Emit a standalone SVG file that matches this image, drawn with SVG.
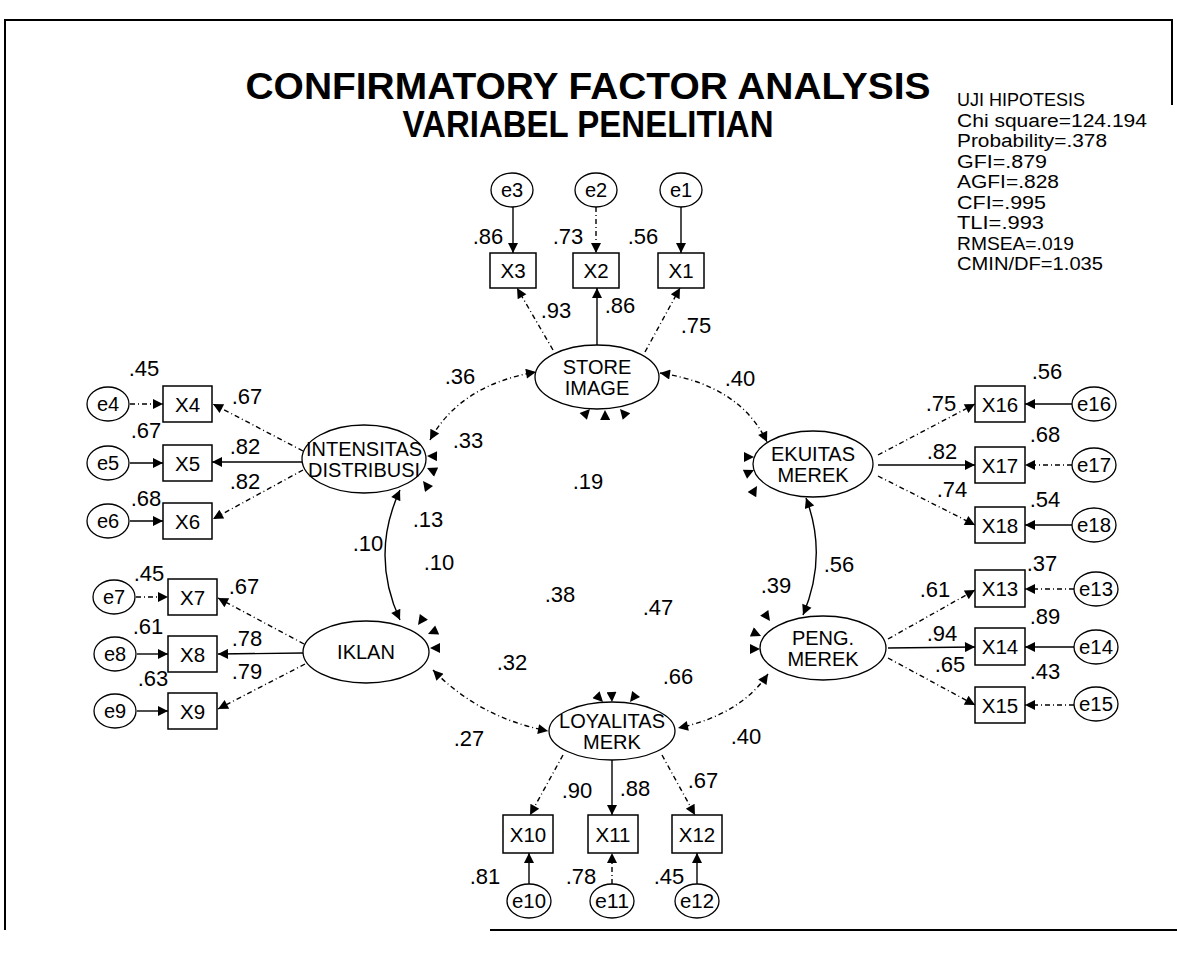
<svg xmlns="http://www.w3.org/2000/svg" width="1177" height="959" viewBox="0 0 1177 959">
<defs>
<marker id="ah" viewBox="0 0 10 10" refX="10" refY="5" markerWidth="13" markerHeight="10" orient="auto-start-reverse" markerUnits="userSpaceOnUse"><path d="M0,0 L10,5 L0,10 z" fill="#000"/></marker>
<style>
text{font-family:"Liberation Sans",Arial,sans-serif;fill:#000}
.t{font-weight:bold;font-size:37px;text-anchor:middle}
.s{font-size:18px}
.n{font-size:22px;text-anchor:middle}
.lb{font-size:20.5px;text-anchor:middle}
.el{font-size:20px;text-anchor:middle}
.box{fill:#fff;stroke:#000;stroke-width:1.5}
.err{fill:#fff;stroke:#000;stroke-width:1.3}
.lat{fill:#fff;stroke:#000;stroke-width:1.3}
.c path{fill:none;stroke:#000;stroke-width:1.4}
.c .d{stroke-dasharray:5,3,1,3}
.c .a{marker-end:url(#ah)}
.c .b{marker-start:url(#ah);marker-end:url(#ah)}
.c .stub{stroke:none}
.frame{fill:none;stroke:#000;stroke-width:2}
</style>
</defs>
<rect width="1177" height="959" fill="#fff"/>
<g id="frame" class="frame"><path d="M1172,105 L1172,20 L5,20 L5,930"/><path d="M490,930 L1177,930"/></g>
<g id="title">
<text class="t" x="588" y="99" textLength="685" lengthAdjust="spacingAndGlyphs">CONFIRMATORY FACTOR ANALYSIS</text>
<text class="t" x="588" y="137" textLength="371" lengthAdjust="spacingAndGlyphs">VARIABEL PENELITIAN</text>
</g>
<g id="stats" class="s">
<text x="957" y="106" textLength="128" lengthAdjust="spacingAndGlyphs">UJI HIPOTESIS</text>
<text x="957" y="126.5" textLength="190" lengthAdjust="spacingAndGlyphs">Chi square=124.194</text>
<text x="957" y="147" textLength="150" lengthAdjust="spacingAndGlyphs">Probability=.378</text>
<text x="957" y="167.5" textLength="90" lengthAdjust="spacingAndGlyphs">GFI=.879</text>
<text x="957" y="188" textLength="102" lengthAdjust="spacingAndGlyphs">AGFI=.828</text>
<text x="957" y="208.5" textLength="89" lengthAdjust="spacingAndGlyphs">CFI=.995</text>
<text x="957" y="229" textLength="87" lengthAdjust="spacingAndGlyphs">TLI=.993</text>
<text x="957" y="249.5" textLength="117" lengthAdjust="spacingAndGlyphs">RMSEA=.019</text>
<text x="957" y="270" textLength="146" lengthAdjust="spacingAndGlyphs">CMIN/DF=1.035</text>
</g>
<g id="connectors" class="c">
<path class="a" d="M513,207 L513,253"/>
<path class="a d" d="M596,207 L596,253"/>
<path class="a" d="M681,207 L681,253"/>
<path class="a d" d="M553,350 L517,288"/>
<path class="a" d="M597,345 L597,288"/>
<path class="a d" d="M645,352 L680,288"/>
<path class="a d" d="M130,404 L163,404"/>
<path class="a" d="M130,463 L163,463"/>
<path class="a" d="M130,521 L163,521"/>
<path class="a d" d="M136,597 L168,597"/>
<path class="a" d="M137,654 L168,654"/>
<path class="a" d="M137,711 L168,711"/>
<path class="a d" d="M303,451 L213,404"/>
<path class="a" d="M302,462 L212,462"/>
<path class="a d" d="M303,470 L213,519"/>
<path class="a d" d="M304,644 L218,598"/>
<path class="a" d="M303,653 L218,654"/>
<path class="a d" d="M305,664 L218,709"/>
<path class="a" d="M1072,404 L1025,404"/>
<path class="a d" d="M1072,465 L1025,465"/>
<path class="a" d="M1072,525 L1025,525"/>
<path class="a d" d="M1074,589 L1025,589"/>
<path class="a" d="M1074,647 L1025,647"/>
<path class="a d" d="M1074,705 L1025,705"/>
<path class="a d" d="M878,455 L975,404"/>
<path class="a" d="M878,465 L975,465"/>
<path class="a d" d="M878,476 L975,525"/>
<path class="a d" d="M888,639 L975,590"/>
<path class="a" d="M888,648 L975,647"/>
<path class="a d" d="M888,658 L975,705"/>
<path class="a d" d="M563,755 L530,815"/>
<path class="a" d="M612,760 L612,815"/>
<path class="a d" d="M662,755 L695,815"/>
<path class="a" d="M529,884 L529,853"/>
<path class="a d" d="M612,884 L612,853"/>
<path class="a" d="M697,884 L697,853"/>
<path class="b d" d="M430,440 Q460,385 536,372"/>
<path class="b d" d="M660,373 Q740,385 767,442"/>
<path class="b" d="M400,490 Q370,555 400,620"/>
<path class="b" d="M806,498 Q828,556 803,615"/>
<path class="b d" d="M433,670 Q480,718 548,731"/>
<path class="b d" d="M768,674 Q740,715 678,728"/>
<path class="a stub" d="M581.9,417.8 L590,409"/>
<path class="a stub" d="M605.2,422 L605,410"/>
<path class="a stub" d="M627.8,418.1 L620,409"/>
<path class="a stub" d="M439,456.2 L427,456"/>
<path class="a stub" d="M437.9,473 L427,468"/>
<path class="a stub" d="M430.2,490.6 L423,481"/>
<path class="a stub" d="M425,615.3 L418,625"/>
<path class="a stub" d="M439,629.2 L428,634"/>
<path class="a stub" d="M442,648 L430,648"/>
<path class="a stub" d="M742,457 L754,457"/>
<path class="a stub" d="M743.1,475.1 L754,470"/>
<path class="a stub" d="M750.9,496.3 L757,486"/>
<path class="a stub" d="M763.1,611.2 L770,621"/>
<path class="a stub" d="M750,631.1 L761,636"/>
<path class="a stub" d="M748,649 L760,649"/>
<path class="a stub" d="M594.6,693.4 L603,702"/>
<path class="a stub" d="M611.4,690 L612,702"/>
<path class="a stub" d="M637.3,692.5 L630,702"/>
</g>
<g id="store"><ellipse class="lat" cx="597" cy="377" rx="62" ry="32"/><text class="el" x="597" y="374">STORE</text><text class="el" x="597" y="395">IMAGE</text></g>
<g id="intensitas"><ellipse class="lat" cx="364" cy="459" rx="62" ry="34"/><text class="el" x="364" y="456" textLength="116" lengthAdjust="spacingAndGlyphs">INTENSITAS</text><text class="el" x="364" y="477" textLength="112" lengthAdjust="spacingAndGlyphs">DISTRIBUSI</text></g>
<g id="iklan"><ellipse class="lat" cx="366" cy="652" rx="63" ry="31"/><text class="el" x="366" y="659">IKLAN</text></g>
<g id="ekuitas"><ellipse class="lat" cx="813" cy="464" rx="60" ry="33"/><text class="el" x="813" y="461">EKUITAS</text><text class="el" x="813" y="482">MEREK</text></g>
<g id="peng"><ellipse class="lat" cx="823" cy="648" rx="63" ry="32"/><text class="el" x="823" y="645">PENG.</text><text class="el" x="823" y="666">MEREK</text></g>
<g id="loyalitas"><ellipse class="lat" cx="612" cy="731" rx="63" ry="29"/><text class="el" x="612" y="728">LOYALITAS</text><text class="el" x="612" y="749">MERK</text></g>
<g id="X3"><rect class="box" x="490" y="253" width="46" height="35"/><text class="lb" x="513" y="278">X3</text></g>
<g id="X2"><rect class="box" x="573" y="253" width="46" height="35"/><text class="lb" x="596" y="278">X2</text></g>
<g id="X1"><rect class="box" x="658" y="253" width="46" height="35"/><text class="lb" x="681" y="278">X1</text></g>
<g id="X4"><rect class="box" x="163" y="386" width="49" height="36"/><text class="lb" x="187.5" y="411.5">X4</text></g>
<g id="X5"><rect class="box" x="163" y="445" width="49" height="36"/><text class="lb" x="187.5" y="470.5">X5</text></g>
<g id="X6"><rect class="box" x="163" y="503" width="49" height="36"/><text class="lb" x="187.5" y="528.5">X6</text></g>
<g id="X7"><rect class="box" x="168" y="579" width="49" height="36"/><text class="lb" x="192.5" y="604.5">X7</text></g>
<g id="X8"><rect class="box" x="168" y="636" width="49" height="36"/><text class="lb" x="192.5" y="661.5">X8</text></g>
<g id="X9"><rect class="box" x="168" y="693" width="49" height="36"/><text class="lb" x="192.5" y="718.5">X9</text></g>
<g id="X16"><rect class="box" x="975" y="386" width="50" height="36"/><text class="lb" x="1000" y="411.5">X16</text></g>
<g id="X17"><rect class="box" x="975" y="447" width="50" height="36"/><text class="lb" x="1000" y="472.5">X17</text></g>
<g id="X18"><rect class="box" x="975" y="507" width="50" height="36"/><text class="lb" x="1000" y="532.5">X18</text></g>
<g id="X13"><rect class="box" x="975" y="570" width="50" height="37"/><text class="lb" x="1000" y="596">X13</text></g>
<g id="X14"><rect class="box" x="975" y="628" width="50" height="37"/><text class="lb" x="1000" y="654">X14</text></g>
<g id="X15"><rect class="box" x="975" y="687" width="50" height="36"/><text class="lb" x="1000" y="712.5">X15</text></g>
<g id="X10"><rect class="box" x="503" y="815" width="50" height="38"/><text class="lb" x="528" y="841.5">X10</text></g>
<g id="X11"><rect class="box" x="588" y="815" width="50" height="38"/><text class="lb" x="613" y="841.5">X11</text></g>
<g id="X12"><rect class="box" x="672" y="815" width="50" height="38"/><text class="lb" x="697" y="841.5">X12</text></g>
<g id="e3"><ellipse class="err" cx="512" cy="190" rx="21" ry="17"/><text class="el" x="512" y="197">e3</text></g>
<g id="e2"><ellipse class="err" cx="596" cy="190" rx="21" ry="17"/><text class="el" x="596" y="197">e2</text></g>
<g id="e1"><ellipse class="err" cx="681" cy="190" rx="21" ry="17"/><text class="el" x="681" y="197">e1</text></g>
<g id="e4"><ellipse class="err" cx="108" cy="404" rx="21" ry="17"/><text class="el" x="108" y="411">e4</text></g>
<g id="e5"><ellipse class="err" cx="108" cy="463" rx="21" ry="17"/><text class="el" x="108" y="470">e5</text></g>
<g id="e6"><ellipse class="err" cx="108" cy="521" rx="21" ry="17"/><text class="el" x="108" y="528">e6</text></g>
<g id="e7"><ellipse class="err" cx="114" cy="597" rx="21" ry="17"/><text class="el" x="114" y="604">e7</text></g>
<g id="e8"><ellipse class="err" cx="115" cy="654" rx="21" ry="17"/><text class="el" x="115" y="661">e8</text></g>
<g id="e9"><ellipse class="err" cx="115" cy="711" rx="21" ry="17"/><text class="el" x="115" y="718">e9</text></g>
<g id="e16"><ellipse class="err" cx="1094" cy="404" rx="22" ry="17"/><text class="el" x="1094" y="411" textLength="34" lengthAdjust="spacingAndGlyphs">e16</text></g>
<g id="e17"><ellipse class="err" cx="1094" cy="465" rx="22" ry="17"/><text class="el" x="1094" y="472" textLength="34" lengthAdjust="spacingAndGlyphs">e17</text></g>
<g id="e18"><ellipse class="err" cx="1094" cy="525" rx="22" ry="17"/><text class="el" x="1094" y="532" textLength="34" lengthAdjust="spacingAndGlyphs">e18</text></g>
<g id="e13"><ellipse class="err" cx="1096" cy="589" rx="22" ry="17"/><text class="el" x="1096" y="596" textLength="34" lengthAdjust="spacingAndGlyphs">e13</text></g>
<g id="e14"><ellipse class="err" cx="1096" cy="647" rx="22" ry="17"/><text class="el" x="1096" y="654" textLength="34" lengthAdjust="spacingAndGlyphs">e14</text></g>
<g id="e15"><ellipse class="err" cx="1096" cy="704" rx="22" ry="17"/><text class="el" x="1096" y="711" textLength="34" lengthAdjust="spacingAndGlyphs">e15</text></g>
<g id="e10"><ellipse class="err" cx="529" cy="901" rx="22" ry="17"/><text class="el" x="529" y="908" textLength="34" lengthAdjust="spacingAndGlyphs">e10</text></g>
<g id="e11"><ellipse class="err" cx="612" cy="901" rx="22" ry="17"/><text class="el" x="612" y="908" textLength="34" lengthAdjust="spacingAndGlyphs">e11</text></g>
<g id="e12"><ellipse class="err" cx="697" cy="901" rx="22" ry="17"/><text class="el" x="697" y="908" textLength="34" lengthAdjust="spacingAndGlyphs">e12</text></g>
<g id="labels" class="n">
<text x="488" y="244">.86</text><text x="568" y="244">.73</text><text x="643" y="244">.56</text>
<text x="556" y="318">.93</text><text x="620" y="313">.86</text><text x="696" y="333">.75</text>
<text x="144" y="376">.45</text><text x="247" y="404">.67</text><text x="146" y="438">.67</text>
<text x="245" y="454">.82</text><text x="245" y="489">.82</text><text x="146" y="506">.68</text>
<text x="149" y="581">.45</text><text x="244" y="594">.67</text><text x="148" y="634">.61</text>
<text x="247" y="646">.78</text><text x="247" y="679">.79</text><text x="153" y="686">.63</text>
<text x="1047" y="379">.56</text><text x="1045" y="442">.68</text><text x="1045" y="507">.54</text>
<text x="941" y="411">.75</text><text x="942" y="459">.82</text><text x="952" y="497">.74</text>
<text x="1042" y="571">.37</text><text x="1045" y="624">.89</text><text x="1045" y="679">.43</text>
<text x="935" y="597">.61</text><text x="942" y="641">.94</text><text x="950" y="672">.65</text>
<text x="485" y="884">.81</text><text x="581" y="884">.78</text><text x="669" y="884">.45</text>
<text x="577" y="798">.90</text><text x="635" y="796">.88</text><text x="703" y="788">.67</text>
<text x="460" y="384">.36</text><text x="740" y="386">.40</text><text x="468" y="448">.33</text>
<text x="588" y="489">.19</text><text x="428" y="527">.13</text><text x="368" y="551">.10</text>
<text x="439" y="570">.10</text><text x="560" y="602">.38</text><text x="658" y="615">.47</text>
<text x="776" y="593">.39</text><text x="839" y="572">.56</text><text x="512" y="670">.32</text>
<text x="678" y="684">.66</text><text x="469" y="746">.27</text><text x="746" y="744">.40</text>
</g>
</svg>
